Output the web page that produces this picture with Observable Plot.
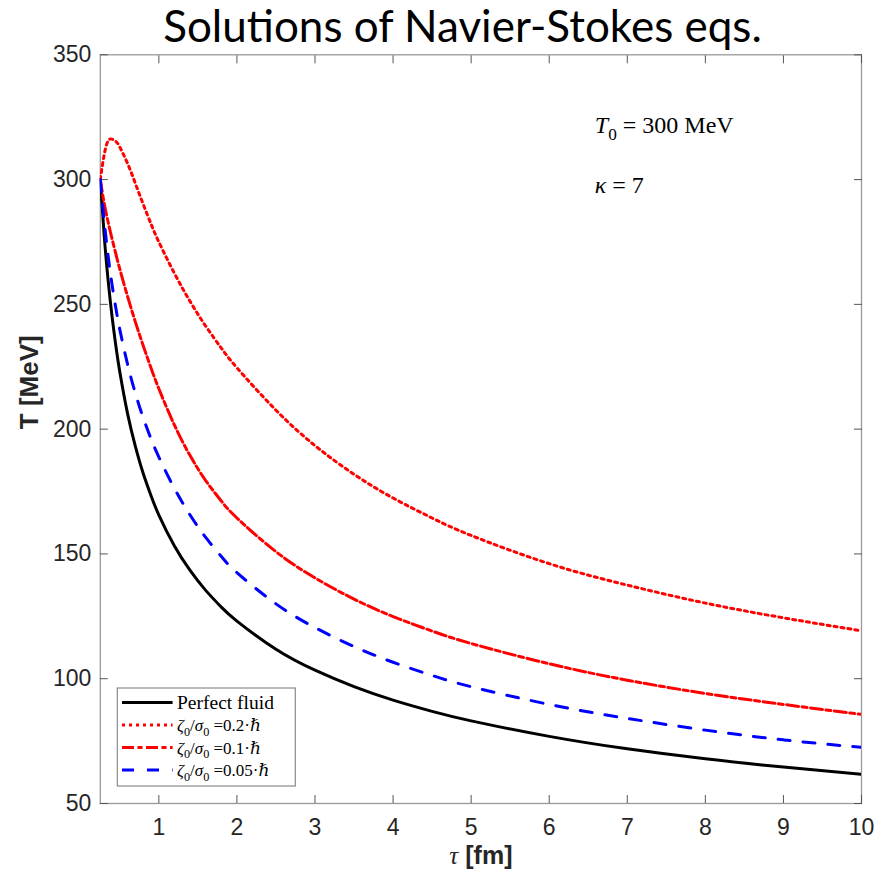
<!DOCTYPE html>
<html><head><meta charset="utf-8">
<script src="https://cdn.jsdelivr.net/npm/d3@7"></script>
<script src="https://cdn.jsdelivr.net/npm/@observablehq/plot@0.6"></script>
<style>
html,body{margin:0;padding:0;background:#fff;overflow:hidden;}
#title{box-sizing:border-box;width:879px;height:40px;padding-left:46px;text-align:center;font-family:Lato,'Open Sans',sans-serif;font-size:44px;line-height:40px;color:#000;white-space:nowrap;position:relative;top:5px;}
#chart svg{display:block;}
</style></head><body>
<div id="title">Solutions of Navier-Stokes eqs.</div>
<div id="chart"></div>
<script>
// ---- data ----
const tau = [0.25,0.3,0.35,0.4,0.45,0.5,0.6,0.7,0.8,0.9,1,1.2,1.4,1.6,1.8,2,2.5,3,3.5,4,4.5,5,6,7,8,9,10];
const T_perfect = [300,277.5,259.7,245.3,233.2,222.9,206.1,193.0,182.2,173.3,165.6,153.2,143.4,135.4,128.7,123.1,111.8,103.4,96.8,91.4,86.9,83.1,76.9,71.9,67.9,64.6,61.7];
const T_zeta02 = [300,310,315.5,316.2,315.3,313,306.4,298.4,290.1,282.2,275.0,262.4,251.2,241.3,232.5,224.6,207.6,193.4,181.9,172.4,164.4,157.4,146.1,137.5,130.3,124.4,119.2];
const T_zeta01 = [300,290.5,283.0,276.3,270.1,264.1,253.1,242.9,233.4,224.5,216.2,201.6,189.4,179.4,171.2,164.4,150.9,140.4,131.9,124.9,119.1,114.1,106.0,99.4,94.1,89.7,85.7];
const T_zeta005 = [300,283.5,269.5,258.0,248.3,239.9,225.9,214.3,204.5,196.1,188.8,176.2,165.6,156.6,149.0,142.5,130.0,120.5,112.9,106.6,101.3,96.8,89.7,84.1,79.4,75.5,72.5];
const seriesNames = ["Perfect fluid","0.2","0.1","0.05"];
const xTicks = [1,2,3,4,5,6,7,8,9,10];
const yTicks = [50,100,150,200,250,300,350];

// ---- styles ----
const styles = [
  {stroke:"#000000", dash:null},
  {stroke:"#ff0000", dash:"3,4"},
  {stroke:"#ff0000", dash:"12,3.5,5,3.5"},
  {stroke:"#0000ff", dash:"12,13"}
];
const seriesValues = [T_perfect, T_zeta02, T_zeta01, T_zeta005];
const table = seriesValues.flatMap((vals, s) => vals.map((T, i) => ({series: s, tau: tau[i], T})));

const lineMarks = styles.map((st, s) => Plot.line(table.filter(d => d.series === s), {
  x: "tau", y: "T", stroke: st.stroke, strokeWidth: 3,
  strokeDasharray: st.dash ?? undefined, curve: "natural", clip: true
}));

const plot = Plot.plot({
  width: 879, height: 842,
  marginTop: 14.3, marginBottom: 79, marginLeft: 99.8, marginRight: 18,
  style: {fontFamily: "'Liberation Sans', Arial, sans-serif", fontSize: "23px", color: "#262626", background: "white"},
  x: {domain: [0.25, 10]},
  y: {domain: [50, 350]},
  marks: [
    Plot.frame({stroke: "#9a9a9a", strokeWidth: 1.3}),
    Plot.axisX(xTicks, {anchor: "bottom", tickSize: 0, tickPadding: 15, label: null, fill: "#262626"}),
    Plot.axisY(yTicks, {anchor: "left", tickSize: 0, tickPadding: 9, label: null, fill: "#262626"}),
    Plot.axisX(xTicks, {anchor: "bottom", tickSize: 8, dy: -8, fill: "none", label: null, stroke: "#555"}),
    Plot.axisX(xTicks, {anchor: "top", tickSize: 8, dy: 8, fill: "none", label: null, stroke: "#555"}),
    Plot.axisY(yTicks, {anchor: "left", tickSize: 8, dx: 8, fill: "none", label: null, stroke: "#555"}),
    Plot.axisY(yTicks, {anchor: "right", tickSize: 8, dx: -8, fill: "none", label: null, stroke: "#555"}),
    ...lineMarks,
    Plot.text(["T [MeV]"], {frameAnchor: "left", dx: -71, rotate: -90, fontSize: 26, fontWeight: "bold", fill: "#262626"}),
    Plot.text(["τ [fm]"], {frameAnchor: "bottom", dy: 60, fontSize: 25, fontWeight: "bold", fill: "#262626", className: "xlab"})
  ]
});
document.getElementById("chart").appendChild(plot);

const sx = plot.scale("x"), sy = plot.scale("y");
const svg = d3.select(plot);

// italic tau in x label
svg.selectAll("g.xlab text").each(function() {
  const t = d3.select(this);
  t.text(null);
  t.append("tspan").attr("font-style", "italic").attr("font-weight", "normal").attr("font-family", "'Liberation Serif', serif").text("τ");
  t.append("tspan").text(" [fm]");
});

function mathText(g, x, y, parts, size) {
  const t = g.append("text").attr("x", x).attr("y", y).attr("text-anchor", "start")
    .attr("font-family", "'Liberation Serif','DejaVu Serif',serif").attr("font-size", size).attr("fill", "#000");
  parts.forEach(p => {
    const sp = t.append("tspan").text(p.t);
    if (p.i) sp.attr("font-style", "italic");
    if (p.sub) sp.attr("dy", size * 0.27).attr("font-size", size * 0.72);
    if (p.up) sp.attr("dy", -size * 0.27);
  });
  return t;
}

// annotations
const ann = svg.append("g");
mathText(ann, sx.apply(6.59), sy.apply(318.3), [{t:"T", i:true}, {t:"0", sub:true}, {t:" = 300 MeV", up:true}], 24);
mathText(ann, sx.apply(6.59), sy.apply(294.3), [{t:"κ", i:true}, {t:" = 7"}], 24);

// legend
const lx = sx.apply(0.25) + 17.5, ly = sy.apply(50) - 115;
const lg = svg.append("g").attr("transform", `translate(${lx},${ly})`);
lg.append("rect").attr("width", 178).attr("height", 98).attr("fill", "white").attr("stroke", "#8a8a8a").attr("stroke-width", 1.2);
seriesNames.forEach((name, i) => {
  const ry = 14.5 + i * 22.5;
  lg.append("line").attr("x1", 4.7).attr("x2", 55.3).attr("y1", ry).attr("y2", ry)
    .attr("stroke", styles[i].stroke).attr("stroke-width", 3)
    .attr("stroke-dasharray", styles[i].dash);
  const parts = i === 0 ? [{t: name}] :
    [{t:"ζ", i:true}, {t:"0", sub:true}, {t:"/", up:true}, {t:"σ", i:true}, {t:"0", sub:true}, {t:" =" + name + "·", up:true}, {t:"ℏ", i:true}];
  mathText(lg, 59.7, ry + 6, parts, i === 0 ? 19.5 : 17);
});
</script>
</body></html>
